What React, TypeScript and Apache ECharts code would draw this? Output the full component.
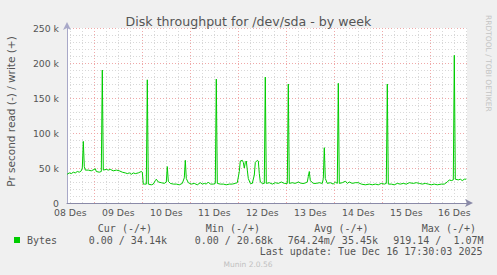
import React, { useEffect, useRef } from "react";
import * as echarts from "echarts";

// hours since 08 Des 00:00
const hours = [
  10.4, 11.5, 12.5, 13.5, 14.5, 15.5, 16.5, 17.5, 18, 18.5, 19, 19.5, 21, 22.5, 24, 24.5, 25, 26.5, 27.5,
  28, 28.5, 30, 31, 32, 33.5, 35, 36.5, 38, 39.5, 40.5, 41.5, 42.5, 43.5, 44.5, 46, 47.5, 48, 48.5, 49, 50,
  50.5, 51, 52.5, 53.5, 54.5, 55, 56, 57.5, 59, 60, 60.5, 61, 62, 63.5, 65, 66.5, 68, 69, 69.5, 70, 71,
  72.5, 74, 75.5, 77, 78, 79, 80, 81, 82, 83.5, 84.5, 85, 85.5, 87, 88.5, 90, 91.5, 93, 94.5, 95.5, 96.5,
  97, 98, 98.5, 99, 99.5, 100, 100.5, 101, 102, 103, 104, 104.5, 105.5, 106, 106.5, 107, 108, 109, 109.5,
  110, 111.5, 113, 114.5, 116, 117.5, 119, 120.5, 121, 121.5, 123, 124.5, 126, 127.5, 129, 130.5, 131,
  131.5, 132, 133.5, 135, 136.5, 138, 138.5, 139, 139.5, 140.5, 142, 143.5, 144.5, 145.5, 146, 146.5, 148,
  149.5, 150.5, 151.5, 153, 154.5, 156, 157.5, 159.5, 161.5, 163, 164.5, 166, 167.5, 169, 170, 170.5, 171,
  172.5, 174, 175.5, 177, 178.5, 180, 181.5, 183.5, 185, 186.5, 188, 189.5, 191, 192.5, 194, 195.5, 197.5,
  199, 200.5, 201.5, 202.5, 203.5, 204, 204.5, 206, 207, 208, 209, 210,
];
// write bytes per second, in k
const writeK = [
  41, 43, 42, 44, 43, 45, 44, 46, 50, 88, 52, 47, 47, 46, 48, 49, 45, 44, 45,
  190, 47, 48, 47, 48, 46, 47, 46, 44, 43, 42, 43, 41, 43, 42, 43, 45, 44, 27, 27, 27,
  176, 27, 26, 27, 32, 34, 30, 29, 28, 30, 52, 31, 28, 27, 27, 26, 28, 36, 61, 35, 29,
  27, 28, 26, 29, 27, 28, 27, 30, 27, 27, 28, 177, 28, 27, 27, 26, 27, 27, 28, 29, 45,
  60, 61, 58, 50, 58, 60, 47, 35, 28, 28, 40, 58, 61, 60, 42, 30, 28, 28, 180,
  28, 29, 27, 29, 28, 30, 28, 28, 170, 28, 29, 28, 30, 28, 28, 30, 38,
  45, 32, 28, 28, 29, 28, 35, 79, 35, 28, 29, 27, 30, 28, 171, 28, 29,
  31, 28, 30, 28, 29, 29, 27, 26, 27, 26, 27, 26, 28, 27, 28, 170, 27,
  27, 26, 28, 27, 28, 27, 29, 28, 29, 28, 27, 28, 27, 26, 27, 26, 27,
  27, 30, 33, 32, 33, 211, 34, 33, 34, 32, 34, 34,
];
const dayLabels = ["08 Des", "09 Des", "10 Des", "11 Des", "12 Des", "13 Des", "14 Des", "15 Des", "16 Des"];
const legendHeaders = ["Cur (-/+)", "Min (-/+)", "Avg (-/+)", "Max (-/+)"];
const legendValues = ["0.00 / 34.14k", "0.00 / 20.68k", "764.24m/ 35.45k", "919.14 /  1.07M"];
const seriesName = "Bytes";
const lastUpdate = "Last update: Tue Dec 16 17:30:03 2025";

const X_MIN = 10.35;
const X_MAX = 210.35;

export default function App() {
  const ref = useRef<HTMLDivElement>(null);
  useEffect(() => {
    if (!ref.current) return;
    const chart = echarts.init(ref.current, null, { renderer: "svg" });
    const gridTicks: number[] = [];
    for (let h = 12; h <= X_MAX; h += 6) gridTicks.push(h);
    const labelTicks = dayLabels.map((_, i) => 12 + 24 * i);
    const mono = "DejaVu Sans Mono";
    const sans = "DejaVu Sans";
    const headerX = [152, 260, 368.5, 476];
    const valueX = [167, 273, 378, 483.5];
    const graphics: any[] = [
      {
        type: "text",
        x: 11,
        y: 111.5,
        rotation: Math.PI / 2,
        style: { text: "Pr second read (-) / write (+)", font: `10.5px ${sans}`, fill: "#555", align: "center", verticalAlign: "middle" },
      },
      {
        type: "text",
        x: 488,
        y: 15,
        rotation: -Math.PI / 2,
        style: { text: "RRDTOOL / TOBI OETIKER", font: `7.5px ${sans}`, fill: "#c4c4c4", align: "left", verticalAlign: "middle" },
      },
      { type: "rect", shape: { x: 14, y: 237, width: 6, height: 6 }, style: { fill: "#00cc00" } },
      { type: "text", x: 27, y: 240, style: { text: seriesName, font: `10px ${mono}`, fill: "#555", verticalAlign: "middle" } },
      { type: "text", x: 482.5, y: 251.5, style: { text: lastUpdate, font: `10px ${mono}`, fill: "#555", align: "right", verticalAlign: "middle" } },
      { type: "text", x: 248, y: 264.5, style: { text: "Munin 2.0.56", font: `7.5px ${sans}`, fill: "#c0c0c0", align: "center", verticalAlign: "middle" } },
    ];
    legendHeaders.forEach((t, i) =>
      graphics.push({ type: "text", x: headerX[i], y: 228, style: { text: t, font: `10px ${mono}`, fill: "#555", align: "right", verticalAlign: "middle" } })
    );
    legendValues.forEach((t, i) =>
      graphics.push({ type: "text", x: valueX[i], y: 240, style: { text: t, font: `10px ${mono}`, fill: "#555", align: "right", verticalAlign: "middle" } })
    );
    const minor = "#d8d8d8";
    const major = "#f0a8a8";
    chart.setOption({
      animation: false,
      backgroundColor: "#f0f0f0",
      textStyle: { fontFamily: sans },
      title: {
        text: "Disk throughput for /dev/sda - by week",
        left: "center",
        top: 10,
        textStyle: { fontFamily: sans, fontSize: 12.6, fontWeight: "normal", color: "#555" },
      },
      grid: { left: 67, top: 28, width: 400, height: 175, show: true, backgroundColor: "#ffffff", borderWidth: 0 },
      xAxis: {
        type: "value",
        min: X_MIN,
        max: X_MAX,
        axisLine: { show: true, symbol: ["none", "arrow"], symbolSize: [6, 8], symbolOffset: [0, 6], lineStyle: { color: "#8a8aa8", width: 1 } },
        axisTick: { show: false, customValues: gridTicks },
        axisLabel: {
          customValues: labelTicks,
          formatter: (v: number) => dayLabels[Math.round((v - 12) / 24)] ?? "",
          color: "#555",
          fontSize: 9.3,
          fontFamily: sans,
          margin: 5,
        },
        splitLine: { show: true, lineStyle: { color: [minor, minor, major, minor], type: [1, 2], width: 1 } },
      },
      yAxis: {
        type: "value",
        min: 0,
        max: 250,
        interval: 10,
        axisLine: { show: true, symbol: ["none", "arrow"], symbolSize: [6, 8], symbolOffset: [0, 6], lineStyle: { color: "#a8a8c8", width: 1 } },
        axisTick: { show: false },
        axisLabel: {
          formatter: (v: number) => (v % 50 === 0 ? (v === 0 ? "0" : `${v} k`) : ""),
          color: "#555",
          fontSize: 9.3,
          fontFamily: sans,
          margin: 8,
        },
        splitLine: { show: true, lineStyle: { color: [major, minor, minor, minor, minor], type: [1, 2], width: 1 } },
      },
      graphic: graphics,
      series: [
        {
          type: "line",
          name: seriesName,
          data: hours.map((h, i) => [h, writeK[i]]),
          showSymbol: false,
          symbol: "none",
          lineStyle: { color: "#00cc00", width: 1 },
          z: 5,
        },
      ],
    });
    return () => chart.dispose();
  }, []);
  return <div ref={ref} style={{ position: "fixed", left: 0, top: 0, width: 497, height: 275 }} />;
}
